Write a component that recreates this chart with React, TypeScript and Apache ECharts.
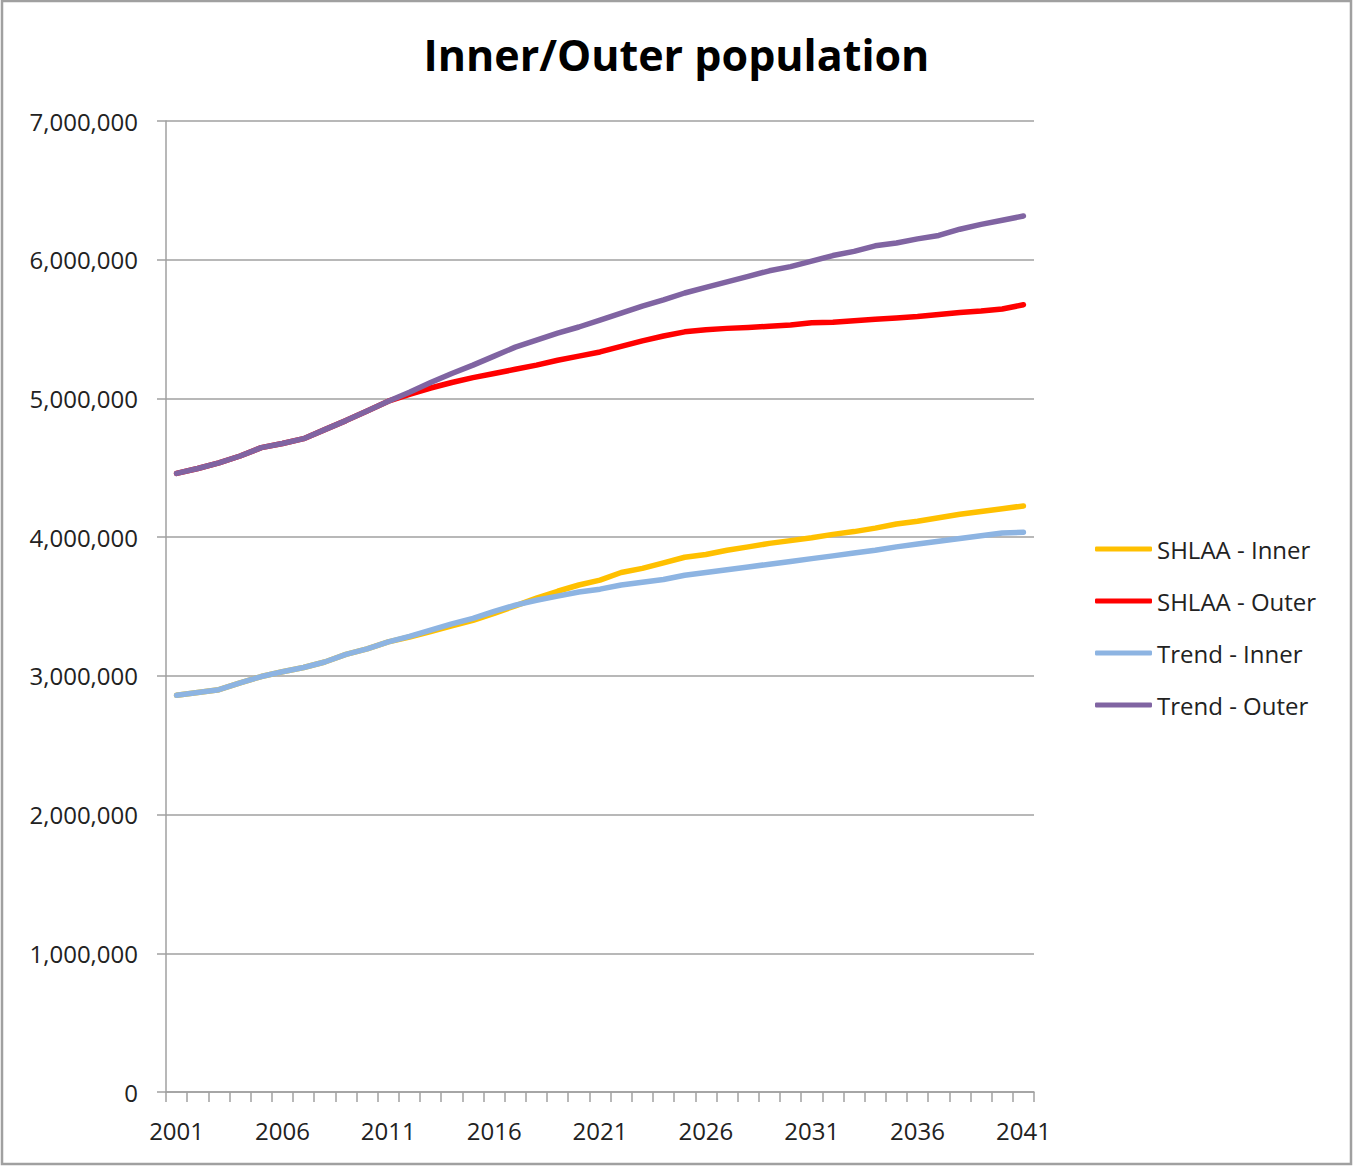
import React, { useEffect, useRef } from "react";
import * as echarts from "echarts";

const years: string[] = [
  "2001","2002","2003","2004","2005","2006","2007","2008","2009","2010",
  "2011","2012","2013","2014","2015","2016","2017","2018","2019","2020",
  "2021","2022","2023","2024","2025","2026","2027","2028","2029","2030",
  "2031","2032","2033","2034","2035","2036","2037","2038","2039","2040","2041",
];

const shlaaInner: number[] = [
  2860000, 2880000, 2900000, 2950000, 2995000, 3030000, 3060000, 3100000, 3155000, 3195000,
  3245000, 3280000, 3320000, 3360000, 3400000, 3450000, 3505000, 3560000, 3610000, 3655000,
  3690000, 3745000, 3775000, 3815000, 3855000, 3875000, 3905000, 3930000, 3955000, 3975000,
  3995000, 4020000, 4040000, 4065000, 4095000, 4115000, 4140000, 4165000, 4185000, 4205000, 4225000,
];

const shlaaOuter: number[] = [
  4460000, 4495000, 4535000, 4585000, 4645000, 4675000, 4710000, 4775000, 4840000, 4910000,
  4980000, 5030000, 5075000, 5115000, 5150000, 5180000, 5210000, 5240000, 5275000, 5305000,
  5335000, 5375000, 5415000, 5450000, 5480000, 5495000, 5505000, 5512000, 5520000, 5530000,
  5545000, 5550000, 5560000, 5570000, 5580000, 5590000, 5605000, 5620000, 5630000, 5645000, 5675000,
];

const trendInner: number[] = [
  2860000, 2880000, 2900000, 2950000, 2995000, 3030000, 3060000, 3100000, 3155000, 3195000,
  3245000, 3285000, 3330000, 3375000, 3415000, 3465000, 3510000, 3545000, 3575000, 3605000,
  3625000, 3655000, 3675000, 3695000, 3725000, 3745000, 3765000, 3785000, 3805000, 3825000,
  3845000, 3865000, 3885000, 3905000, 3930000, 3950000, 3970000, 3990000, 4010000, 4030000, 4035000,
];

const trendOuter: number[] = [
  4460000, 4495000, 4535000, 4585000, 4645000, 4675000, 4710000, 4775000, 4840000, 4910000,
  4980000, 5045000, 5115000, 5180000, 5240000, 5305000, 5370000, 5420000, 5470000, 5515000,
  5565000, 5615000, 5665000, 5710000, 5760000, 5800000, 5840000, 5880000, 5920000, 5950000,
  5990000, 6030000, 6060000, 6100000, 6120000, 6150000, 6175000, 6220000, 6255000, 6285000, 6315000,
];

const seriesNames: string[] = ["SHLAA - Inner", "SHLAA - Outer", "Trend - Inner", "Trend - Outer"];
const seriesColors: string[] = ["#FFC000", "#FF0000", "#8DB4E2", "#8064A2"];

const FONT = "'Open Sans', 'Noto Sans', sans-serif";

export default function App() {
  const ref = useRef<HTMLDivElement>(null);

  useEffect(() => {
    document.body.style.margin = "0";
    if (!ref.current) return;
    const chart = echarts.init(ref.current, undefined, { renderer: "svg" });
    const data = [shlaaInner, shlaaOuter, trendInner, trendOuter];
    chart.setOption({
      animation: false,
      backgroundColor: "#ffffff",
      title: {
        text: "Inner/Outer population",
        left: "center",
        top: 28,
        textStyle: {
          fontFamily: FONT,
          fontWeight: "bold",
          fontSize: 43,
          color: "#000000",
        },
      },
      graphic: [
        {
          type: "rect",
          shape: { x: 2, y: 1, width: 1349, height: 1163 },
          style: { fill: "none", stroke: "#a0a0a0", lineWidth: 2.5 },
          silent: true,
        },
      ],
      legend: {
        orient: "vertical",
        left: 1095,
        top: 537,
        padding: 0,
        icon: "roundRect",
        itemWidth: 57,
        itemHeight: 5,
        itemGap: 28,
        textStyle: {
          fontFamily: FONT,
          fontSize: 24,
          color: "#222222",
          lineHeight: 24,
        },
        data: seriesNames,
      },
      grid: {
        left: 166,
        top: 121,
        right: 319,
        bottom: 74,
        containLabel: false,
      },
      xAxis: {
        type: "category",
        data: years,
        boundaryGap: true,
        axisLine: { show: true, lineStyle: { color: "#a0a0a0", width: 1.5 } },
        axisTick: {
          show: true,
          interval: 0,
          length: 10,
          lineStyle: { color: "#a0a0a0", width: 1.5 },
        },
        axisLabel: {
          interval: 4,
          margin: 26,
          fontFamily: FONT,
          fontSize: 24,
          color: "#222222",
        },
        splitLine: { show: false },
      },
      yAxis: {
        type: "value",
        min: 0,
        max: 7000000,
        interval: 1000000,
        axisLine: { show: true, lineStyle: { color: "#a0a0a0", width: 1.5 } },
        axisTick: { show: true, length: 9, lineStyle: { color: "#a0a0a0", width: 1.5 } },
        axisLabel: {
          margin: 28,
          fontFamily: FONT,
          fontSize: 24,
          color: "#222222",
          formatter: (v: number) => v.toLocaleString("en-US"),
        },
        splitLine: { show: true, lineStyle: { color: "#a0a0a0", width: 1.5 } },
      },
      series: seriesNames.map((name, i) => ({
        name,
        type: "line",
        data: data[i],
        symbol: "none",
        smooth: false,
        color: seriesColors[i],
        itemStyle: { color: seriesColors[i] },
        lineStyle: { color: seriesColors[i], width: 5.5, cap: "round", join: "round" },
        z: 2 + i,
      })),
    });
    return () => chart.dispose();
  }, []);

  return <div ref={ref} style={{ width: 1353, height: 1166 }} />;
}
